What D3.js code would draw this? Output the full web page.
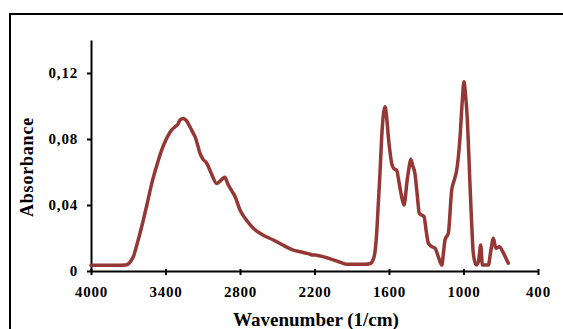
<!DOCTYPE html>
<html>
<head>
<meta charset="utf-8">
<script src="https://cdn.jsdelivr.net/npm/d3@7"></script>
<style>
  body { margin: 0; background: #fff; }
  svg { display: block; }
  text { font-family: "Liberation Serif", "Times New Roman", serif; font-weight: bold; fill: #000; }
</style>
</head>
<body>
<div id="drawArea"></div>
<script>
// spectrum
const wavenumbers = [4000, 3800, 3720, 3700, 3680, 3659, 3630, 3592, 3550, 3511, 3470, 3431, 3400, 3377, 3350, 3323, 3300, 3283, 3257, 3230, 3203, 3180, 3162, 3140, 3122, 3100, 3068, 3030, 2988, 2960, 2940, 2921, 2900, 2870, 2840, 2800, 2750, 2693, 2620, 2532, 2450, 2371, 2317, 2250, 2210, 2196, 2150, 2100, 2048, 1990, 1941, 1800, 1753, 1730, 1713, 1700, 1686, 1672, 1659, 1645, 1632, 1620, 1605, 1590, 1578, 1560, 1538, 1520, 1498, 1479, 1465, 1457, 1440, 1425, 1410, 1391, 1375, 1356, 1340, 1318, 1300, 1283, 1260, 1229, 1203, 1175, 1160, 1149, 1122, 1095, 1075, 1055, 1028, 1010, 996, 985, 969, 958, 947, 935, 921, 898, 880, 861, 848, 800, 781, 759, 740, 711, 684, 660, 639];
const absorbance = [0.0035, 0.0035, 0.0037, 0.0042, 0.006, 0.0087, 0.016, 0.0268, 0.040, 0.053, 0.064, 0.0733, 0.079, 0.0824, 0.0855, 0.0874, 0.089, 0.0915, 0.0925, 0.091, 0.0874, 0.084, 0.0814, 0.076, 0.0713, 0.068, 0.0653, 0.059, 0.053, 0.0545, 0.056, 0.0568, 0.053, 0.049, 0.0451, 0.037, 0.031, 0.0259, 0.022, 0.0188, 0.0155, 0.0127, 0.0117, 0.0105, 0.0097, 0.0097, 0.0090, 0.0080, 0.0067, 0.0052, 0.0041, 0.0041, 0.0044, 0.0065, 0.0115, 0.022, 0.041, 0.060, 0.081, 0.095, 0.0996, 0.094, 0.081, 0.071, 0.065, 0.062, 0.061, 0.054, 0.045, 0.040, 0.047, 0.053, 0.062, 0.0677, 0.064, 0.059, 0.048, 0.035, 0.034, 0.033, 0.024, 0.0168, 0.015, 0.0138, 0.0087, 0.0036, 0.012, 0.0188, 0.023, 0.049, 0.055, 0.061, 0.081, 0.103, 0.1147, 0.108, 0.0915, 0.072, 0.051, 0.03, 0.0107, 0.0036, 0.0056, 0.0158, 0.0036, 0.0036, 0.0117, 0.0198, 0.0138, 0.0147, 0.0117, 0.008, 0.0047];
const xTicks = [4000, 3400, 2800, 2200, 1600, 1000, 400];
const yTicks = [0, 0.04, 0.08, 0.12];

const W = 563, H = 329;
const margin = { left: 91, right: 538, top: 40, bottom: 271 };

const svg = d3.select('#drawArea').append('svg')
  .attr('width', W)
  .attr('height', H);

// chart frame, runs off the right and bottom edge
svg.append('rect')
  .attr('x', 10).attr('y', 14)
  .attr('width', 600).attr('height', 400)
  .attr('fill', 'none')
  .attr('stroke', '#000')
  .attr('stroke-width', 2);

const x = d3.scaleLinear().domain([4000, 400]).range([margin.left, margin.right]);
const y = d3.scaleLinear().domain([0, 0.14]).range([margin.bottom, margin.top]);

const fmt = d => d === 0 ? '0' : d3.format('.2f')(d).replace('.', ',');

const yAx = svg.append('g')
  .attr('transform', `translate(${margin.left},0)`)
  .call(d3.axisLeft(y).tickValues(yTicks).tickFormat(fmt).tickSizeInner(4).tickSizeOuter(0).tickPadding(9));

const xAx = svg.append('g')
  .attr('transform', `translate(0,${margin.bottom})`)
  .call(d3.axisBottom(x).tickValues(xTicks).tickFormat(d3.format('d')).tickSizeInner(4).tickSizeOuter(0).tickPadding(11));

[xAx, yAx].forEach(g => {
  g.select('.domain').attr('stroke', '#000').attr('stroke-width', 2);
  g.selectAll('.tick line').attr('stroke', '#000').attr('stroke-width', 2);
  g.selectAll('.tick text')
    .style('font-family', '"Liberation Serif", serif')
    .style('font-weight', 'bold')
    .style('font-size', '15px')
    .style('letter-spacing', '0.8px');
});
xAx.selectAll('.tick line').attr('y1', -2);

const line = d3.line()
  .x((d, i) => x(wavenumbers[i]))
  .y(d => y(d))
  .curve(d3.curveMonotoneX);

svg.append('path')
  .datum(absorbance)
  .attr('fill', 'none')
  .attr('stroke', '#953735')
  .attr('stroke-width', 3.5)
  .attr('stroke-linejoin', 'round')
  .attr('stroke-linecap', 'round')
  .attr('d', line);

svg.append('text')
  .attr('x', 316).attr('y', 326)
  .attr('text-anchor', 'middle')
  .style('font-size', '19px')
  .text('Wavenumber (1/cm)');

svg.append('text')
  .attr('transform', 'translate(33,167) rotate(-90)')
  .attr('text-anchor', 'middle')
  .style('font-size', '18px')
  .style('letter-spacing', '0.8px')
  .text('Absorbance');
</script>
</body>
</html>
